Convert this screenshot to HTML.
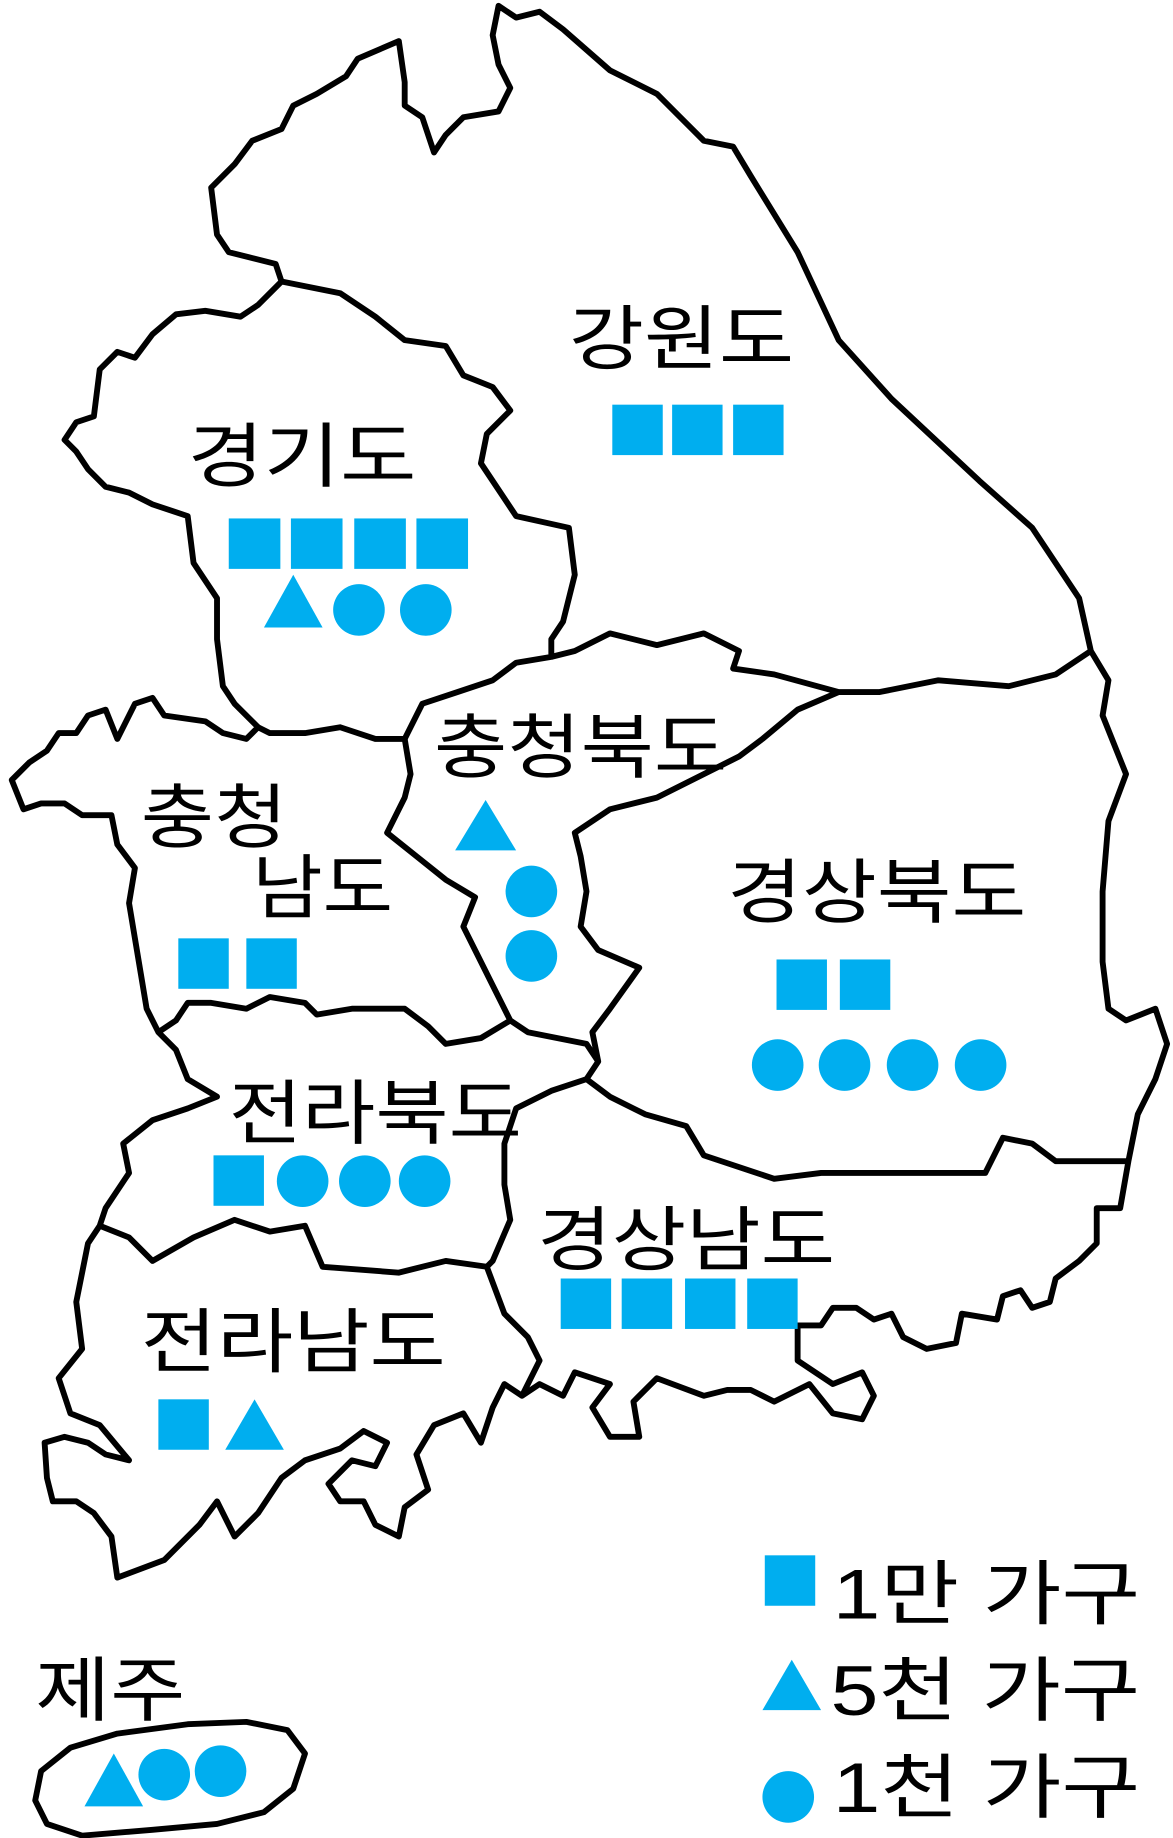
<!DOCTYPE html>
<html><head><meta charset="utf-8"><style>
html,body{margin:0;padding:0;background:#fff}
svg{display:block}
text{font-family:"Liberation Sans","Noto Sans CJK KR",sans-serif;font-size:60px;fill:#000}
</style></head><body>
<svg width="1173" height="1838" viewBox="0 0 1000 1567" xmlns="http://www.w3.org/2000/svg">
<g fill="none" stroke="#000" stroke-width="5" stroke-linejoin="round">
<path fill="#fff" d="M425,5 L440,15 460,10 480,25 520,60 560,80 580,100 600,120 625,125 640,150 680,215 715,290 760,340 835,410 880,450 920,510 930,555 945,580 940,610 960,660 945,700 940,760 940,820 945,860 960,870 985,860 995,890 985,920 970,950 962,990 955,1030 935,1030 935,1060 920,1075 900,1090 895,1110 880,1115 870,1100 855,1105 850,1125 820,1120 815,1145 790,1150 770,1140 760,1120 745,1125 730,1115 710,1115 700,1130 680,1130 680,1160 710,1180 735,1170 745,1190 735,1210 710,1205 690,1180 660,1195 640,1185 620,1185 600,1190 560,1175 540,1195 545,1225 520,1225 505,1200 520,1180 490,1170 480,1190 460,1180 445,1190 430,1180 420,1200 410,1230 395,1205 370,1215 355,1240 365,1270 345,1285 340,1310 320,1300 310,1280 290,1280 280,1265 300,1245 320,1250 330,1230 310,1220 290,1235 260,1245 240,1260 220,1290 200,1310 185,1280 170,1300 140,1330 100,1345 95,1310 80,1290 65,1280 45,1280 40,1260 38,1230 55,1225 75,1230 90,1240 110,1245 85,1215 60,1205 50,1175 70,1150 65,1110 75,1060 85,1045 90,1030 110,1000 105,975 130,955 160,945 185,935 160,920 150,895 135,880 125,860 120,830 115,800 110,770 115,740 100,720 95,695 70,695 55,685 35,685 20,690 10,665 25,650 40,640 50,625 65,625 75,610 90,605 100,630 115,600 130,595 140,610 175,615 190,625 210,630 220,620 200,600 190,585 185,545 185,510 165,480 160,440 130,430 110,420 90,415 75,400 65,385 55,375 65,360 80,355 85,315 100,300 115,305 130,285 150,268 175,265 205,270 220,260 240,240 235,225 215,220 195,215 185,200 180,160 200,140 215,120 240,110 250,90 270,80 295,65 305,50 340,35 345,70 345,90 360,100 370,130 380,115 395,100 425,95 435,75 425,55 420,30 Z"/>
<path d="M240,240 L290,250 320,270 345,290 380,295 395,320 420,330 435,350 415,370 410,395 440,440 485,450 490,490 480,530 470,545 470,560 440,565 420,580 390,590 360,600 345,630 320,630 290,620 260,625 230,625 220,620"/>
<path d="M470,560 L490,555 520,540 560,550 600,540 630,555 625,570 660,575 715,590 750,590 800,580 860,585 900,575 930,555"/>
<path d="M715,590 L680,605 650,630 630,645 600,660 560,680 520,690 490,710 495,730 500,760 495,790 510,810 545,825 520,860 505,880 510,905 500,920"/>
<path d="M345,630 L350,660 345,680 330,710 355,730 380,750 405,765 395,790 410,820 420,840 435,870 450,880 500,890 510,905"/>
<path d="M135,880 L150,870 160,855 180,855 210,860 230,850 260,855 270,865 300,860 345,860 365,875 380,890 410,885 435,870"/>
<path d="M500,920 L470,930 440,945 430,975 430,1010 435,1040 420,1075 415,1080 430,1120 450,1140 460,1160 445,1190"/>
<path d="M85,1045 L110,1055 130,1075 165,1055 200,1040 230,1050 260,1045 275,1080 340,1085 380,1075 415,1080"/>
<path d="M500,920 L520,935 550,950 585,960 600,985 660,1005 700,1000 760,1000 840,1000 855,970 880,975 900,990 960,990"/>
<path fill="#fff" d="M35,1510 L60,1490 100,1478 160,1470 210,1468 245,1475 260,1495 250,1525 225,1545 185,1555 130,1560 70,1565 40,1555 30,1535 Z"/>
</g>
<g>
<text x="485" y="310" textLength="192" lengthAdjust="spacingAndGlyphs">강원도</text>
<text x="160" y="410" textLength="195" lengthAdjust="spacingAndGlyphs">경기도</text>
<text x="370" y="658" textLength="250" lengthAdjust="spacingAndGlyphs">충청북도</text>
<text x="120" y="718" textLength="125" lengthAdjust="spacingAndGlyphs">충청</text>
<text x="215" y="778" textLength="120" lengthAdjust="spacingAndGlyphs">남도</text>
<text x="620" y="782" textLength="255" lengthAdjust="spacingAndGlyphs">경상북도</text>
<text x="195" y="970" textLength="250" lengthAdjust="spacingAndGlyphs">전라북도</text>
<text x="458" y="1078" textLength="254" lengthAdjust="spacingAndGlyphs">경상남도</text>
<text x="120" y="1165" textLength="260" lengthAdjust="spacingAndGlyphs">전라남도</text>
<text x="30" y="1462" textLength="128" lengthAdjust="spacingAndGlyphs">제주</text>
<text x="710" y="1380" textLength="262" lengthAdjust="spacingAndGlyphs">1만 가구</text>
<text x="708" y="1462" textLength="264" lengthAdjust="spacingAndGlyphs">5천 가구</text>
<text x="710" y="1545" textLength="262" lengthAdjust="spacingAndGlyphs">1천 가구</text>
</g>
<g fill="#00AEEF">
<rect x="522" y="345" width="43" height="43"/><rect x="573" y="345" width="43" height="43"/><rect x="625" y="345" width="43" height="43"/>
<rect x="195" y="442" width="44" height="43"/><rect x="248" y="442" width="44" height="43"/><rect x="302" y="442" width="44" height="43"/><rect x="355" y="442" width="44" height="43"/>
<polygon points="225,535 250,490 275,535"/><circle cx="306" cy="520" r="22"/><circle cx="363" cy="520" r="22"/>
<polygon points="388,725 414,682 440,725"/><circle cx="453" cy="760" r="22"/><circle cx="453" cy="815" r="22"/>
<rect x="152" y="800" width="43" height="43"/><rect x="210" y="800" width="43" height="43"/>
<rect x="662" y="818" width="43" height="43"/><rect x="716" y="818" width="43" height="43"/>
<circle cx="663" cy="908" r="22"/><circle cx="720" cy="908" r="22"/><circle cx="778" cy="908" r="22"/><circle cx="836" cy="908" r="22"/>
<rect x="182" y="985" width="43" height="43"/><circle cx="258" cy="1007" r="22"/><circle cx="311" cy="1007" r="22"/><circle cx="362" cy="1007" r="22"/>
<rect x="478" y="1090" width="43" height="43"/><rect x="530" y="1090" width="43" height="43"/><rect x="584" y="1090" width="43" height="43"/><rect x="637" y="1090" width="43" height="43"/>
<rect x="135" y="1193" width="43" height="43"/><polygon points="192,1236 217,1193 242,1236"/>
<polygon points="72,1540 97,1495 122,1540"/><circle cx="140" cy="1513" r="22"/><circle cx="188" cy="1510" r="22"/>
<rect x="652" y="1326" width="43" height="43"/>
<polygon points="650,1458 675,1415 700,1458"/>
<circle cx="672" cy="1532" r="22"/>
</g>
</svg>
</body></html>
